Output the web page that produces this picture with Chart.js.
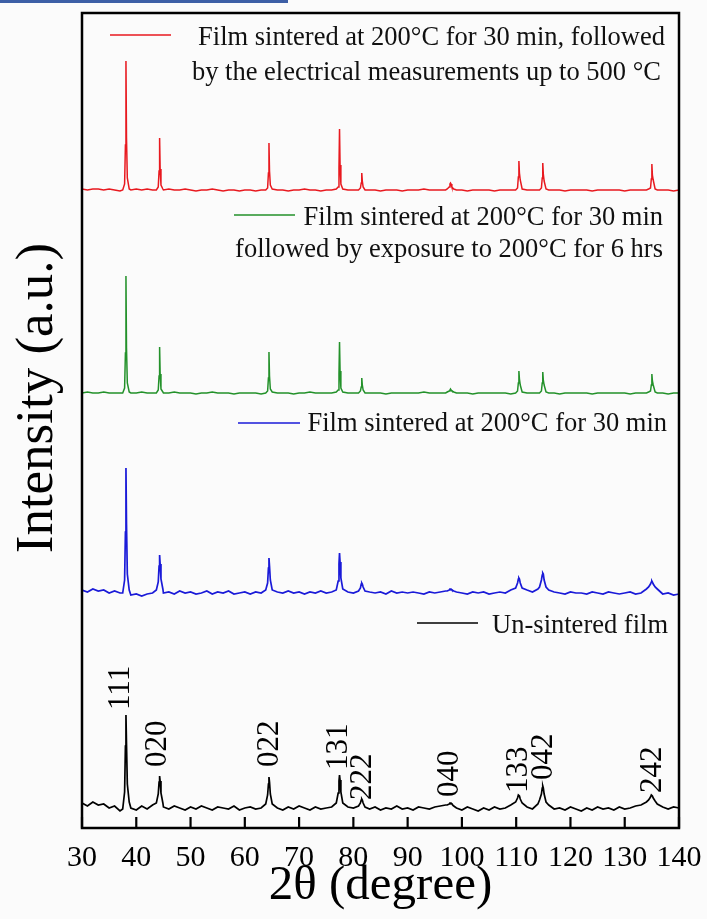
<!DOCTYPE html>
<html>
<head>
<meta charset="utf-8">
<script src="https://cdn.jsdelivr.net/npm/chart.js@4.4.1/dist/chart.umd.min.js"></script>
<style>
  html, body { margin: 0; padding: 0; background: #fbfbfb; }
  #wrap { position: relative; width: 707px; height: 919px; }
  #topbar { position: absolute; left: 0; top: 0; width: 288px; height: 3px; background: #3d5fa6; }
  canvas { display: block; }
</style>
</head>
<body>
<div id="wrap">
  <canvas id="c" width="707" height="919"></canvas>
  <div id="topbar"></div>
</div>
<script>
// ---- DATA ----
const twoTheta = [
  30,31,32,33,34,35,36,37,
  37.5,37.85,38.0,38.1,38.2,38.35,38.7,
  39,40,41,42,43,
  43.7,44.05,44.2,44.3,44.4,44.55,44.9,
  45,46,47,48,49,50,51,52,53,54,55,56,57,58,59,60,61,62,63,
  63.85,64.2,64.35,64.45,64.55,64.7,65.05,
  66,67,68,69,70,71,72,73,74,75,76,
  76.85,77.2,77.35,77.45,77.55,77.7,78.05,
  79,80,
  80.95,81.3,81.45,81.55,81.65,81.8,82.15,
  83,84,85,86,87,88,89,90,91,92,93,94,95,96,97,
  97.3,97.65,97.8,97.9,98.0,98.15,98.5,
  99,100,101,102,103,104,105,106,107,108,109,
  109.9,110.25,110.4,110.5,110.6,110.75,111.1,
  112,113,114,
  114.3,114.65,114.8,114.9,115.0,115.15,115.5,
  116,117,118,119,120,121,122,123,124,125,126,127,128,129,130,131,132,133,134,
  134.4,134.75,134.9,135.0,135.1,135.25,135.6,
  136,137,138,139,140
];

// Film sintered at 200°C for 30 min, followed by electrical measurements up to 500 °C
const redIntensity = [
  1,0,1,1,0,1,0,-1,
  0,6,45,129,52,12,1,
  0,1,0,1,0,
  0,3,19,52,21,5,1,
  0,1,0,0,1,0,-1,0,0,1,0,-1,0,0,-1,0,0,-1,0,
  0,2,17,47,19,5,1,
  0,0,-1,0,0,1,0,0,-1,0,0,
  1,3,22,61,25,6,1,
  0,0,
  0,2,7,17,9,3,0,
  0,0,-1,0,0,0,-1,0,0,0,1,0,0,0,0,
  1,3,6,7,6,3,1,
  0,0,-1,0,0,0,0,-1,0,0,0,
  0,2,13,29,17,10,1,
  0,0,0,
  0,2,12,27,16,9,1,
  0,0,0,-1,0,0,0,0,-1,0,0,0,0,0,-1,0,0,0,0,
  1,2,11,26,15,10,1,
  0,0,0,-1,0
];

// Film sintered at 200°C for 30 min followed by exposure to 200°C for 6 hrs
const greenIntensity = [
  0,1,0,0,1,0,0,0,
  0,5,40,117,45,10,1,
  0,0,1,0,0,
  0,3,17,46,19,4,1,
  0,0,1,0,0,0,-1,0,0,1,0,0,0,-1,0,0,0,0,-1,
  0,2,15,41,17,4,1,
  0,0,0,-1,0,0,1,0,0,0,0,
  1,3,19,51,22,5,1,
  0,0,
  0,2,6,15,8,3,0,
  0,0,0,-1,0,0,0,0,0,0,1,0,0,0,0,
  1,2,3,4,3,2,1,
  0,0,0,-1,0,0,0,0,0,0,-1,
  0,2,10,22,14,8,1,
  0,0,0,
  0,2,10,21,13,8,1,
  0,0,-1,0,0,0,0,0,-1,0,0,0,0,0,0,-1,0,0,0,
  1,2,8,19,12,8,1,
  0,0,-1,0,0
];

// Film sintered at 200°C for 30 min
const blueIntensity = [
  2,0,3,1,2,-1,1,-1,
  -1,12,60,124,68,18,2,
  -3,-2,-4,-2,-1,
  2,10,26,37,28,13,3,
  -1,0,-2,1,-1,0,-2,-1,1,-2,0,-1,1,-2,-1,0,-2,0,-1,
  2,9,24,34,26,12,2,
  0,-1,1,-1,0,-2,0,-1,1,-1,0,
  2,11,28,39,30,14,3,
  0,-1,
  1,4,8,9,8,5,1,
  0,-1,0,-2,1,-1,0,-1,0,-1,-2,0,-1,0,1,
  1,2,3,3,3,2,1,
  0,-1,-2,0,-1,0,-2,-1,0,-1,2,
  4,9,13,14,13,9,4,
  2,0,3,
  5,12,17,19,18,12,5,
  2,0,-1,-2,0,-1,-1,-2,0,-1,-2,0,-1,-2,-1,0,-2,-1,3,
  5,8,10,11,10,8,5,
  3,-2,-1,-3,-2
];

// Un-sintered film
const blackIntensity = [
  3,0,4,1,2,-2,0,-5,
  -3,14,60,91,62,22,4,
  -2,-4,0,-3,1,
  3,12,24,30,25,13,3,
  -1,-3,0,-2,-4,-1,-3,0,-2,-4,-1,-2,-3,0,-4,-2,-1,-3,-2,
  2,11,22,29,24,12,2,
  -2,-4,-1,-3,0,-2,-4,-1,-3,-2,-1,
  3,13,25,31,26,14,3,
  -1,-2,
  0,3,6,7,6,3,-1,
  -3,-1,-4,-2,-3,0,-3,-2,-4,-1,-2,-3,-1,0,1,
  1,2,3,3,3,2,0,
  -2,-4,-1,-3,-5,-2,-4,-1,-3,-2,1,
  4,8,11,11,10,7,3,
  -1,-3,2,
  6,12,18,20,18,12,4,
  1,-3,-2,-4,-1,-3,-5,-2,-4,-1,-3,-2,-4,-1,-3,-2,0,1,4,
  6,9,11,11,10,8,5,
  2,-1,-3,-1,-2
];

const xTickValues = [30,40,50,60,70,80,90,100,110,120,130,140];

// Miller-index annotations of the un-sintered pattern
const peakLabels = ['111','020','022','131','222','040','133','042','242'];
const peakLabelAngles = [37.13,44.0,64.6,77.33,81.75,97.8,110.5,115.1,135.2];
const peakLabelLevels = [118,61,61,58,28,31,35,48,35];

// ---- presentation ----
const seriesNames = [
  ['Film sintered at 200°C for 30 min, followed', 'by the electrical measurements up to 500 °C'],
  ['Film sintered at 200°C for 30 min', 'followed by exposure to 200°C for 6 hrs'],
  ['Film sintered at 200°C for 30 min'],
  ['Un-sintered film']
];
const seriesData = [redIntensity, greenIntensity, blueIntensity, blackIntensity];
const seriesOffset = [638, 435, 236, 22];
const seriesColor = ['#e8191f', '#23912a', '#1a1ad8', '#000000'];
const seriesWidth = [1.5, 1.5, 1.7, 1.7];

// legend placement (canvas px): line x1,x2,y ; text right edges & baselines
const legendLayout = [
  {lx1:110, lx2:171, ly:35,  tx:[665,661], ty:[45,80]},
  {lx1:234, lx2:295, ly:215, tx:[663,663], ty:[225,257]},
  {lx1:238, lx2:300, ly:423, tx:[667],     ty:[431]},
  {lx1:417, lx2:478, ly:623, tx:[668],     ty:[633]}
];

const SERIF = '"Liberation Serif", "Times New Roman", serif';

const datasets = seriesData.map((arr, k) => ({
  label: seriesNames[k].join(' '),
  data: twoTheta.map((t, i) => ({x: t, y: arr[i] + seriesOffset[k]})),
  borderColor: seriesColor[k],
  borderWidth: seriesWidth[k],
  pointRadius: 0,
  tension: 0,
  fill: false
}));

const overlay = {
  id: 'overlay',
  afterDraw(chart) {
    const {ctx, chartArea: a, scales: {x, y}} = chart;
    ctx.save();
    // frame
    ctx.strokeStyle = '#000';
    ctx.lineWidth = 2.5;
    ctx.strokeRect(a.left, a.top, a.right - a.left, a.bottom - a.top);
    // inward tick marks on bottom axis
    ctx.lineWidth = 2.2;
    x.ticks.forEach(t => {
      const px = x.getPixelForValue(t.value);
      ctx.beginPath();
      ctx.moveTo(px, a.bottom);
      ctx.lineTo(px, a.bottom - 11);
      ctx.stroke();
    });
    // peak labels
    ctx.fillStyle = '#000';
    ctx.font = '31px ' + SERIF;
    ctx.textAlign = 'left';
    ctx.textBaseline = 'middle';
    peakLabels.forEach((lab, i) => {
      const px = x.getPixelForValue(peakLabelAngles[i]);
      const py = y.getPixelForValue(peakLabelLevels[i]);
      ctx.save();
      ctx.translate(px, py);
      ctx.rotate(-Math.PI / 2);
      ctx.fillText(lab, 0, 0);
      ctx.restore();
    });
    // legend entries
    ctx.font = '26.5px ' + SERIF;
    ctx.textAlign = 'right';
    ctx.textBaseline = 'alphabetic';
    legendLayout.forEach((L, k) => {
      ctx.strokeStyle = seriesColor[k];
      ctx.lineWidth = 1.6;
      ctx.beginPath();
      ctx.moveTo(L.lx1, L.ly);
      ctx.lineTo(L.lx2, L.ly);
      ctx.stroke();
      ctx.fillStyle = '#111';
      seriesNames[k].forEach((line, j) => ctx.fillText(line, L.tx[j], L.ty[j]));
    });
    // y axis title
    ctx.fillStyle = '#000';
    ctx.font = '53px ' + SERIF;
    ctx.textAlign = 'center';
    ctx.textBaseline = 'middle';
    ctx.save();
    ctx.translate(38, 398);
    ctx.rotate(-Math.PI / 2);
    ctx.fillText('Intensity (a.u.)', 0, 0);
    ctx.restore();
    ctx.restore();
  }
};

new Chart(document.getElementById('c'), {
  type: 'line',
  data: { datasets },
  options: {
    responsive: false,
    animation: false,
    events: [],
    layout: { padding: { left: 82, right: 28, top: 13, bottom: 0 } },
    plugins: { legend: { display: false }, tooltip: { enabled: false } },
    scales: {
      x: {
        type: 'linear',
        min: 30, max: 140,
        afterBuildTicks: s => { s.ticks = xTickValues.map(v => ({value: v})); },
        afterFit: s => { s.height = 91; },
        grid: { display: false },
        border: { display: false },
        ticks: {
          autoSkip: false, maxRotation: 0, minRotation: 0,
          padding: 4, color: '#000',
          font: { family: SERIF, size: 30 }
        },
        title: {
          display: true, text: '2θ (degree)', color: '#000',
          font: { family: SERIF, size: 49 },
          padding: { top: 0, bottom: 3 }
        }
      },
      y: {
        display: false,
        min: 0, max: 815
      }
    }
  },
  plugins: [overlay]
});
</script>
</body>
</html>
